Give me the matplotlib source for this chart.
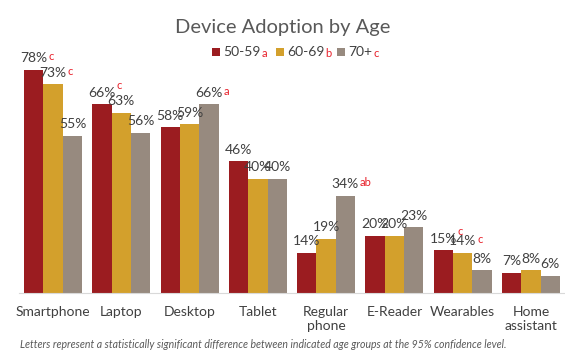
import numpy as np
import matplotlib
matplotlib.use("Agg")
import matplotlib.pyplot as plt
from matplotlib.patches import Rectangle

plt.rcParams['font.family'] = ['Lato', 'DejaVu Sans']

categories = ["Smartphone", "Laptop", "Desktop", "Tablet", "Regular\nphone",
              "E-Reader", "Wearables", "Home\nassistant"]
groups = ["50-59", "60-69", "70+"]
group_letters = ["a", "b", "c"]
age_50_59 = [78, 66, 58, 46, 14, 20, 15, 7]
age_60_69 = [73, 63, 59, 40, 19, 20, 14, 8]
age_70_plus = [55, 56, 66, 40, 34, 23, 8, 6]
# significance letters per bar
sig_50_59 = ["c", "c", "", "", "", "", "c", ""]
sig_60_69 = ["c", "", "", "", "", "", "c", ""]
sig_70_plus = ["", "", "a", "", "ab", "", "", ""]

colors = ["#9B1C20", "#D3A02C", "#978A7F"]
text_col = "#404040"
letter_col = "#E8202A"

W, H = 565, 353
fig = plt.figure(figsize=(W / 100, H / 100), dpi=100)
ax = fig.add_axes([19 / W, (H - 293) / H, 546 / W, 286 / H])

x = np.arange(len(categories))
bw = 0.283
series = [age_50_59, age_60_69, age_70_plus]
sigs = [sig_50_59, sig_60_69, sig_70_plus]
for i, (vals, sg) in enumerate(zip(series, sigs)):
    pos = x + (i - 1) * bw
    ax.bar(pos, vals, width=bw, color=colors[i], linewidth=0)
    for px, v, s in zip(pos, vals, sg):
        t = ax.annotate(f"{v}%", (px, v), xytext=(0, 4), textcoords="offset points",
                        ha="center", va="bottom", fontsize=10, color=text_col,
                        annotation_clip=False)
        if s:
            # the first-group letters on Laptop and Wearables sit raised
            raise_up = 4 if (i == 0 and v in (66, 15)) else 0
            ax.annotate(s, xy=(1, 0), xycoords=t, xytext=(0.5, raise_up + 1.5),
                        textcoords="offset points", ha="left", va="bottom",
                        fontsize=8, color=letter_col, annotation_clip=False)

ax.set_xlim(-0.5, len(categories) - 0.5)
ax.set_ylim(0, 100)
for sp in ["top", "right", "left"]:
    ax.spines[sp].set_visible(False)
ax.spines["bottom"].set_color("#D9D9D9")
ax.set_yticks([])
ax.set_xticks(x)
ax.set_xticklabels(categories, fontsize=10, color=text_col, linespacing=1.3)
ax.tick_params(axis="x", length=0, pad=9)

fig.text(283 / W, 1 - 27 / H, "Device Adoption by Age", ha="center", va="center",
         fontsize=14.5, color="#595959")

# legend
leg_x = [212, 276, 337]
ly = 1 - 52 / H
for lx, g, l, c in zip(leg_x, groups, group_letters, colors):
    fig.add_artist(Rectangle((lx / W, ly - 3.5 / H), 7.5 / W, 7.5 / H,
                             transform=fig.transFigure, color=c, lw=0))
    t = fig.text((lx + 11) / W, ly, g, ha="left", va="center", fontsize=10,
                 color=text_col)
    fig.canvas.draw()
    bb = t.get_window_extent()
    fig.text((bb.x1 + 1) / W, ly - 1.5 / H, l, ha="left", va="center",
             fontsize=8, color=letter_col)

fig.text(20 / W, 1 - 344 / H,
         "Letters represent a statistically significant difference between "
         "indicated age groups at the 95% confidence level.",
         ha="left", va="center", fontsize=7.6, style="italic", color="#595959")

fig.savefig("out.png", dpi=100)
